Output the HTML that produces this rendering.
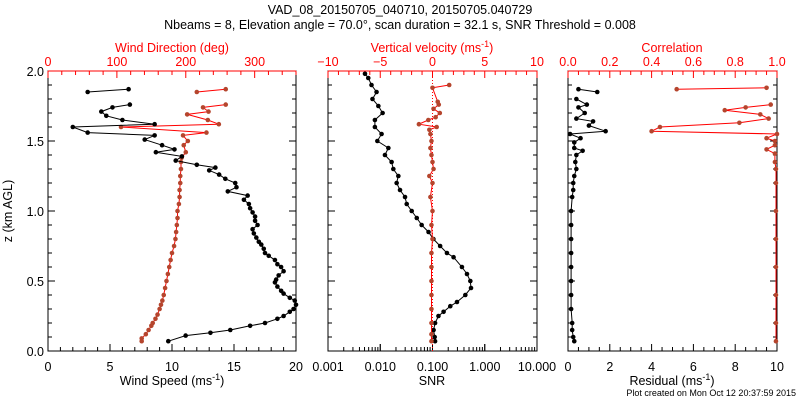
<!DOCTYPE html>
<html><head><meta charset="utf-8"><style>
body{margin:0;background:#fff}
svg{display:block;font-family:"Liberation Sans",sans-serif}
</style></head><body>
<svg id="c" width="800" height="400" xmlns="http://www.w3.org/2000/svg">
<text x="400" y="14" text-anchor="middle" font-size="12.5">VAD_08_20150705_040710, 20150705.040729</text>
<text x="400" y="29" text-anchor="middle" font-size="12.5">Nbeams = 8, Elevation angle = 70.0°, scan duration = 32.1 s, SNR Threshold = 0.008</text>
<text x="796" y="396" text-anchor="end" font-size="9">Plot created on Mon Oct 12 20:37:59 2015</text>
</svg>
<script>
// Panel 1: wind speed (black) & direction (brown)
const spdZ=[0.07,0.11,0.13,0.15,0.18,0.2,0.23,0.25,0.28,0.3,0.33,0.36,0.38,0.41,0.43,0.46,0.49,0.51,0.54,0.57,0.6,0.62,0.65,0.68,0.7,0.73,0.76,0.78,0.81,0.84,0.87,0.9,0.93,0.96,0.99,1.02,1.05,1.08,1.11,1.14,1.17,1.2,1.23,1.26,1.29,1.31,1.33,1.36,1.39,1.42,1.44,1.47,1.51,1.54,1.56,1.6,1.62,1.65,1.68,1.71,1.74,1.76];
const spdV=[9.7,11.1,13.1,14.7,16.3,17.5,18.5,19,19.5,19.8,20,19.9,19.5,19,18.8,18.5,18.3,18.4,18.6,19,18.8,18.5,18.3,17.8,17.5,17.4,17.2,17.0,16.8,16.6,16.5,16.9,16.7,16.7,16.5,16.3,16.2,15.8,16.1,14.5,15.2,15.1,14.3,13.8,13.0,13.5,12.0,10.3,10.8,8.7,10.2,9.2,7.8,8.6,3.2,2.0,8.6,6.0,4.7,4.3,5.2,6.6];
const spdZ2=[1.85,1.87];
const spdV2=[3.2,6.5];
const dirZ=[0.07,0.09,0.12,0.15,0.18,0.2,0.23,0.26,0.3,0.33,0.36,0.4,0.45,0.5,0.55,0.6,0.65,0.7,0.75,0.8,0.85,0.9,0.95,1.0,1.05,1.1,1.15,1.2,1.25,1.3,1.35,1.38,1.42,1.47,1.5,1.54,1.56,1.6,1.62,1.65,1.69,1.71,1.74,1.76];
const dirV=[136,136,142,146,150,152,156,159,162,164,166,168,170,172,174,176,178,180,183,185,186,187,188,188,190,191,191,192,192,193,193,194,200,197,203,196,230,106,248,232,202,233,225,258];
const dirZ2=[1.85,1.87];
const dirV2=[216,258];
// Panel 2: SNR (black) & vertical velocity (brown)
const snrZ=[1.98,1.95,1.9,1.85,1.8,1.75,1.7,1.65,1.6,1.55,1.5,1.45,1.4,1.35,1.3,1.25,1.2,1.15,1.1,1.05,1.0,0.95,0.9,0.85,0.8,0.75,0.7,0.67,0.6,0.55,0.5,0.45,0.4,0.35,0.32,0.28,0.25,0.2,0.15,0.1,0.07];
const snrV=[0.0051,0.0059,0.0068,0.0085,0.0071,0.0092,0.0111,0.0079,0.0079,0.0106,0.0088,0.0143,0.0123,0.0165,0.0178,0.0222,0.0206,0.0239,0.0298,0.0321,0.040,0.050,0.062,0.084,0.104,0.140,0.189,0.253,0.366,0.457,0.530,0.546,0.425,0.294,0.219,0.163,0.130,0.112,0.105,0.11,0.112];
const wZ=[0.07,0.12,0.2,0.3,0.4,0.5,0.6,0.7,0.8,0.9,1.0,1.1,1.2,1.25,1.3,1.35,1.4,1.45,1.5,1.55,1.58,1.6,1.62,1.65,1.67,1.7,1.73,1.76,1.78,1.88,1.9];
const wV=[-0.1,-0.1,-0.1,-0.1,-0.1,-0.1,-0.1,-0.1,0.0,-0.1,0.0,-0.2,0.0,-0.3,0.1,0.0,-0.1,-0.2,-0.1,-0.2,-0.3,0.4,-1.3,-0.4,0.3,0.7,0.1,0.6,0.5,0.0,1.6];
// Panel 3: residual (black) & correlation (brown)
const resZ=[0.07,0.1,0.15,0.2,0.3,0.4,0.5,0.6,0.7,0.8,0.9,1.0,1.1,1.15,1.2,1.25,1.3,1.35,1.4,1.43,1.45,1.49,1.52,1.55,1.57,1.61,1.64,1.66,1.7,1.74,1.76,1.8];
const resV=[0.3,0.25,0.2,0.2,0.15,0.15,0.15,0.15,0.15,0.15,0.15,0.15,0.2,0.25,0.25,0.3,0.4,0.35,0.4,0.7,0.3,0.3,0.6,0.1,1.8,1.0,1.2,0.4,0.8,0.5,0.9,0.4];
const resZ2=[1.85,1.87];
const resV2=[1.4,0.5];
const corZ=[0.07,0.2,0.4,0.6,0.8,1.0,1.2,1.3,1.35,1.41,1.44,1.47,1.5,1.52,1.55,1.57,1.6,1.63,1.66,1.69,1.72,1.74,1.76];
const corV=[0.995,0.995,0.995,0.995,0.995,0.995,0.995,0.995,0.99,0.99,0.95,0.99,0.99,0.95,1.0,0.4,0.44,0.82,0.96,0.92,0.75,0.85,0.97];
const corZ2=[1.87,1.88];
const corV2=[0.52,0.95];

const NS='http://www.w3.org/2000/svg';
const svg=document.getElementById('c');
const Y0=351,Y1=71;
const yS=z=>Y0-(z/2)*(Y0-Y1);
function mk(t,a,parent){const e=document.createElementNS(NS,t);for(const k in a)e.setAttribute(k,a[k]);(parent||svg).appendChild(e);return e;}
function txt(x,y,s,fill,anchor,size){const e=mk('text',{x:x,y:y,fill:fill,'text-anchor':anchor||'middle','font-size':size||12.5});e.textContent=s;return e;}
function lin(x1,y1,x2,y2,c,p){return mk('line',{x1:x1,y1:y1,x2:x2,y2:y2,stroke:c,'stroke-width':1},p);}
const BR='#b5452d';

function series(zs,vs,xf,lineC,ptC,name){
  const g=mk('g',{});
  
  
  let d='';zs.forEach((z,i)=>{d+=(i?'L':'M')+xf(vs[i]).toFixed(1)+' '+yS(z).toFixed(1);});
  mk('path',{d:d,fill:'none',stroke:lineC,'stroke-width':1},g);
  zs.forEach((z,i)=>{const c=mk('circle',{cx:xf(vs[i]),cy:yS(z),r:2.3,fill:ptC},g);
    
    });
}

function frame(x0,x1,name,leftLabels){
  const g=mk('g',{});
  
  
  mk('rect',{x:x0,y:Y1,width:x1-x0,height:Y0-Y1,fill:'none',stroke:'#000','stroke-width':1},g);
  for(let k=0;k<=20;k++){const y=yS(k/10);const L=k%5==0?7:4;
    lin(x0,y,x0+L,y,'#000',g);lin(x1,y,x1-L,y,'#000',g);}
  if(leftLabels){['0.0','0.5','1.0','1.5','2.0'].forEach((s,i)=>{const t=txt(x0-4,yS(i*0.5)+5,s,'#000','end');
    });}
  return g;
}
function linAxis(x0,x1,lo,hi,major,minor,pos,color,labels,fmt){
  const xf=v=>x0+(v-lo)/(hi-lo)*(x1-x0);
  const y=pos=='top'?Y1:Y0,dir=pos=='top'?1:-1;
  const n=Math.round((hi-lo)/minor);
  for(let k=0;k<=n;k++){const v=lo+k*minor;const isM=Math.abs((v-lo)/major-Math.round((v-lo)/major))<1e-6;
    lin(xf(v),y,xf(v),y+dir*(isM?7:4),color);}
  if(pos=='top')mk('line',{x1:x0,y1:Y1,x2:x1,y2:Y1,stroke:color,'stroke-width':1});
  labels.forEach(v=>{const t=txt(xf(v),pos=='top'?Y1-5:Y0+20,fmt(v),color);
    });
  return xf;
}

// Panel 1
frame(48,296,'wind-panel',true);
const xSpd=linAxis(48,296,0,20,5,1,'bottom','#000',[0,5,10,15,20],v=>String(v));
const xDir=linAxis(48,296,0,360,100,20,'top','#f00',[0,100,200,300],v=>String(v));
series(dirZ,dirV,xDir,'#f00',BR,'wind-direction-series');
series(dirZ2,dirV2,xDir,'#f00',BR,'wind-direction-top-series');
series(spdZ,spdV,xSpd,'#000','#000','wind-speed-series');
series(spdZ2,spdV2,xSpd,'#000','#000','wind-speed-top-series');
let t;
t=txt(172,52,'Wind Direction (deg)','#f00');
t=txt(172,385,'','#000');t.innerHTML='Wind Speed (ms<tspan dy="-5" font-size="9">-1</tspan><tspan dy="5">)</tspan>';
t=txt(0,0,'z (km AGL)','#000');t.setAttribute('transform','translate(12,211) rotate(-90)');

// Panel 2
frame(328,537,'snr-panel',false);
const xSnr=v=>328+(Math.log10(v)+3)/4*(537-328);
for(let d=-3;d<1;d++){for(let m=1;m<=10;m++){const v=m*Math.pow(10,d);const x=xSnr(v);lin(x,Y0,x,Y0-(m==1||m==10?7:4),'#000');}}
[0.001,0.01,0.1,1,10].forEach(v=>{const t2=txt(xSnr(v),Y0+20,v.toFixed(3),'#000');});
const xW=linAxis(328,537,-10,10,5,1,'top','#f00',[-10,-5,0,5,10],v=>v<0?'\u2212'+(-v):String(v));
mk('line',{x1:xW(0),y1:Y1,x2:xW(0),y2:Y0,stroke:'#f00','stroke-width':1,'stroke-dasharray':'1,2'});
series(snrZ,snrV,xSnr,'#000','#000','snr-series');
series(wZ,wV,xW,'#f00',BR,'vertical-velocity-series');
t=txt(432,52,'','#f00');t.innerHTML='Vertical velocity (ms<tspan dy="-5" font-size="9">-1</tspan><tspan dy="5">)</tspan>';
t=txt(432,385,'SNR','#000');

// Panel 3
frame(568,777,'residual-panel',false);
const xRes=linAxis(568,777,0,10,2,0.5,'bottom','#000',[0,2,4,6,8,10],v=>String(v));
const xCor=linAxis(568,777,0,1,0.2,0.05,'top','#f00',[0,0.2,0.4,0.6,0.8,1],v=>v.toFixed(1));
series(corZ,corV,xCor,'#f00',BR,'correlation-series');
series(corZ2,corV2,xCor,'#f00',BR,'correlation-top-series');
series(resZ,resV,xRes,'#000','#000','residual-series');
series(resZ2,resV2,xRes,'#000','#000','residual-top-series');
t=txt(672,52,'Correlation','#f00');
t=txt(672,385,'','#000');t.innerHTML='Residual (ms<tspan dy="-5" font-size="9">-1</tspan><tspan dy="5">)</tspan>';
</script>
</body></html>
